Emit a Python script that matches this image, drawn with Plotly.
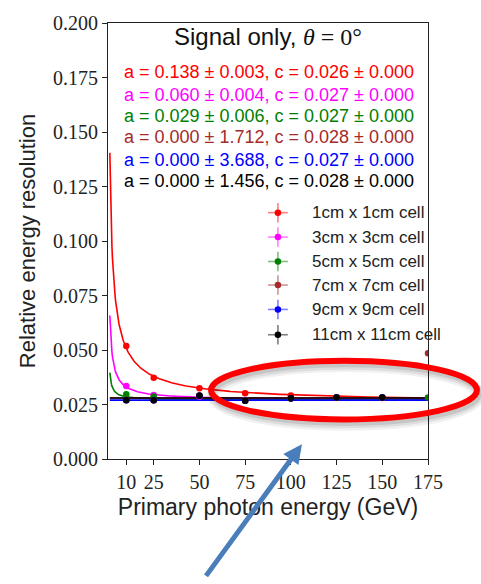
import numpy as np
import plotly.graph_objects as go

# Primary photon energies (GeV)
energy = [10, 25, 50, 75, 100, 125, 150, 175]

cell_labels = ["1cm x 1cm cell", "3cm x 3cm cell", "5cm x 5cm cell",
               "7cm x 7cm cell", "9cm x 9cm cell", "11cm x 11cm cell"]
colors = ["#ff0000", "#ff00ff", "#008000", "#a52a2a", "#0000ff", "#000000"]
err_colors = ["rgba(255,0,0,0.5)", "rgba(255,0,255,0.5)", "rgba(0,128,0,0.5)",
              "rgba(165,42,42,0.5)", "rgba(0,0,255,0.5)", "rgba(0,0,0,0.5)"]

# Fit parameters: sigma/E = a/sqrt(E) (+) c
fit_a = [0.138, 0.060, 0.029, 0.000, 0.000, 0.000]
fit_a_err = [0.003, 0.004, 0.006, 1.712, 3.688, 1.456]
fit_c = [0.026, 0.027, 0.027, 0.028, 0.027, 0.028]
fit_c_err = [0.000, 0.000, 0.000, 0.000, 0.000, 0.000]

# Measured relative energy resolution per cell size
res_1cm = [0.0518, 0.0373, 0.0324, 0.0302, 0.0291, 0.0283, 0.0282, None]
res_3cm = [0.0335, 0.0294, 0.0286, 0.0270, 0.0278, 0.0281, 0.0280, None]
res_5cm = [0.0297, 0.0287, 0.0289, 0.0268, 0.0278, 0.0282, 0.0281, 0.0282]
res_7cm = [0.0272, 0.0270, 0.0290, 0.0268, 0.0279, 0.0282, 0.0282, 0.0485]
res_9cm = [0.0270, 0.0269, 0.0290, 0.0267, 0.0279, 0.0282, 0.0282, None]
res_11cm = [0.0269, 0.0269, 0.0291, 0.0267, 0.0279, 0.0282, 0.0282, None]
resolutions = [res_1cm, res_3cm, res_5cm, res_7cm, res_9cm, res_11cm]

y_ticks = [0.000, 0.025, 0.050, 0.075, 0.100, 0.125, 0.150, 0.175, 0.200]

SANS = "Liberation Sans, Arial, sans-serif"
SERIF = "Liberation Serif, Times New Roman, serif"

fig = go.Figure()

e_fit = np.linspace(1, 175, 600)
for i in range(len(cell_labels)):
    curve = np.sqrt(fit_a[i] ** 2 / e_fit + fit_c[i] ** 2)
    fig.add_trace(go.Scatter(x=e_fit, y=curve, mode="lines",
                             line=dict(color=colors[i], width=1.6),
                             showlegend=False, hoverinfo="skip"))

for i in range(len(cell_labels)):
    fig.add_trace(go.Scatter(x=energy, y=resolutions[i], mode="markers",
                             marker=dict(color=colors[i], size=6.5),
                             name=cell_labels[i], showlegend=False))

# Legend keys (marker with x/y error cross) on an overlay axis in [0, 1]
leg_x = 0.531
leg_y = [0.565, 0.509, 0.453, 0.399, 0.343, 0.285]
for i in range(len(cell_labels)):
    fig.add_trace(go.Scatter(
        x=[leg_x], y=[leg_y[i]], mode="markers", xaxis="x2", yaxis="y2",
        marker=dict(color=colors[i], size=6.5),
        error_x=dict(type="constant", value=0.031, color=err_colors[i],
                     thickness=1.6, width=0),
        error_y=dict(type="constant", value=0.0224, color=err_colors[i],
                     thickness=1.6, width=0),
        showlegend=False, hoverinfo="skip"))

annotations = []
for i in range(len(cell_labels)):
    annotations.append(dict(
        x=0.631, y=leg_y[i], xref="paper", yref="paper", xanchor="left",
        yanchor="middle", showarrow=False, text=cell_labels[i],
        font=dict(family=SANS, size=17, color="#222222")))

fit_y = [0.888, 0.834, 0.787, 0.738, 0.686, 0.637]
for i in range(len(cell_labels)):
    txt = ("a = %.3f \u00b1 %.3f, c = %.3f \u00b1 %.3f"
           % (fit_a[i], fit_a_err[i], fit_c[i], fit_c_err[i]))
    annotations.append(dict(
        x=0.503, y=fit_y[i], xref="paper", yref="paper", xanchor="center",
        yanchor="middle", showarrow=False, text=txt,
        font=dict(family=SANS, size=18, color=colors[i])))

annotations.append(dict(
    x=0.5, y=0.9686, xref="paper", yref="paper", xanchor="center",
    yanchor="middle", showarrow=False,
    text="Signal only, <span style=\"font-family:'Liberation Serif'\"><i>\u03b8</i> = 0\u00b0</span>",
    font=dict(family=SANS, size=24, color="#111111")))

# Highlight arrow
annotations.append(dict(
    x=0.606, y=0.0336, xref="paper", yref="paper", text="", showarrow=True,
    ax=-97, ay=133, arrowcolor="#4a7ebb", arrowwidth=5, arrowhead=2,
    arrowsize=0.75, standoff=0))

shapes = []
# soft shadow under the highlight ellipse
for dy, w, op in [(0.012, 12, 0.06), (0.010, 9, 0.08), (0.008, 6, 0.10)]:
    shapes.append(dict(type="circle", xref="paper", yref="paper",
                       x0=0.3219 + 0.006, x1=1.153 + 0.006,
                       y0=0.0908 - dy, y1=0.2253 - dy,
                       line=dict(color="rgba(0,0,0,%.2f)" % op, width=w),
                       layer="above"))
shapes.append(dict(type="circle", xref="paper", yref="paper",
                   x0=0.3219, x1=1.153, y0=0.0908, y1=0.2253,
                   line=dict(color="#ff0000", width=6), layer="above"))

fig.update_layout(
    width=481, height=584,
    margin=dict(l=108, r=53, t=13, b=125),
    paper_bgcolor="white", plot_bgcolor="white",
    showlegend=False,
    xaxis=dict(range=[0, 175], tickvals=energy, ticktext=[str(v) for v in energy],
               ticks="outside", ticklen=5, tickwidth=1, tickcolor="#222",
               showline=True, linecolor="#222", linewidth=1.2, mirror=True,
               showgrid=False, zeroline=False,
               tickfont=dict(family=SERIF, size=20, color="#222"),
               title=dict(text="Primary photon energy (GeV)",
                          font=dict(family=SANS, size=23, color="#222"),
                          standoff=6)),
    yaxis=dict(range=[0, 0.2], tickvals=y_ticks,
               ticktext=["%.3f" % v for v in y_ticks],
               ticks="outside", ticklen=5, tickwidth=1, tickcolor="#222",
               showline=True, linecolor="#222", linewidth=1.2, mirror=True,
               showgrid=False, zeroline=False,
               tickfont=dict(family=SERIF, size=20, color="#222"),
               title=dict(text="Relative energy resolution",
                          font=dict(family=SANS, size=22, color="#222"),
                          standoff=11)),
    xaxis2=dict(overlaying="x", range=[0, 1], visible=False, fixedrange=True),
    yaxis2=dict(overlaying="y", range=[0, 1], visible=False, fixedrange=True),
    annotations=annotations,
    shapes=shapes,
)

fig.write_html("out.html")
